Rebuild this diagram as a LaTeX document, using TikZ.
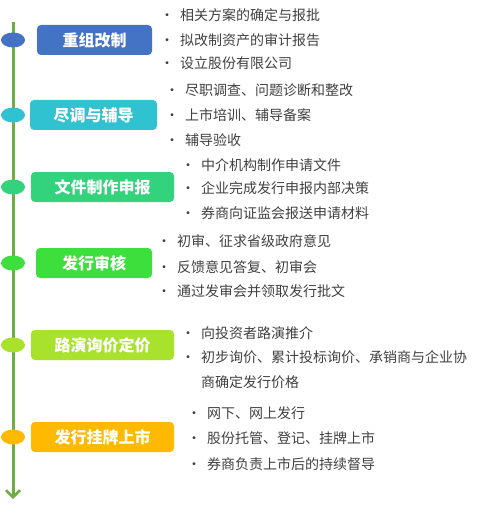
\documentclass[tikz,border=0pt]{standalone}
\usepackage{fontspec}
\setmainfont{Noto Sans CJK SC}
\usepackage{tikz}
\usetikzlibrary{arrows.meta,positioning,shapes.geometric}
\definecolor{ipogreen}{HTML}{70AD47}
\definecolor{ipoblue}{HTML}{4472C4}
\definecolor{ipoteal}{HTML}{31C2D2}
\definecolor{iposea}{HTML}{33D27C}
\definecolor{ipolime}{HTML}{3DDF3D}
\definecolor{ipoyell}{HTML}{A8E22C}
\definecolor{ipoorange}{HTML}{FFB900}
\definecolor{ipotext}{HTML}{404040}
\newcommand{\bul}{\makebox[20pt][l]{\textbullet}}

\begin{document}
\begin{tikzpicture}[
  x=1pt, y=-1pt,
  spine/.style={draw=ipogreen, line width=3pt, -{Straight Barb[length=7pt, width=14pt, line width=2.5pt]}},
  dot/.style={ellipse, minimum width=24pt, minimum height=15pt, inner sep=0pt},
  stage/.style={rounded corners=4pt, minimum height=30pt, inner sep=0pt, text=white,
                font=\fontsize{16}{16}\selectfont\bfseries},
  pt/.style={anchor=west, inner sep=0pt, text=ipotext, align=left,
             font=\fontsize{14}{25}\selectfont},
]
\useasboundingbox (0,0) rectangle (499,513);

% timeline
\coordinate (top) at (13,22);
\coordinate (bot) at (13,499);
\draw[spine] (top) -- (bot);

% stages
\node[dot, fill=ipoblue]   (d1) at (13,40)  {};
\node[dot, fill=ipoteal]   (d2) at (13,115) {};
\node[dot, fill=iposea]    (d3) at (13,187) {};
\node[dot, fill=ipolime]   (d4) at (13,263) {};
\node[dot, fill=ipoyell]   (d5) at (13,345) {};
\node[dot, fill=ipoorange] (d6) at (13,437) {};

\node[stage, fill=ipoblue,   minimum width=115pt] (s1) at (94.5,40)  {重组改制};
\node[stage, fill=ipoteal,   minimum width=127pt] (s2) at (93.5,115) {尽调与辅导};
\node[stage, fill=iposea,    minimum width=143pt] (s3) at (102.5,187) {文件制作申报};
\node[stage, fill=ipolime,   minimum width=116pt] (s4) at (94,263)  {发行审核};
\node[stage, fill=ipoyell,   minimum width=143pt] (s5) at (102.5,345) {路演询价定价};
\node[stage, fill=ipoorange, minimum width=143pt] (s6) at (102.5,437) {发行挂牌上市};

% items
\node[pt] (a1) at (160,15)  {\bul 相关方案的确定与报批};
\node[pt] (a2) at (160,40)  {\bul 拟改制资产的审计报告};
\node[pt] (a3) at (160,63)  {\bul 设立股份有限公司};

\node[pt] (b1) at (165,90)  {\bul 尽职调查、问题诊断和整改};
\node[pt] (b2) at (165,115) {\bul 上市培训、辅导备案};
\node[pt] (b3) at (165,140) {\bul 辅导验收};

\node[pt] (c1) at (181,165) {\bul 中介机构制作申请文件};
\node[pt] (c2) at (181,188) {\bul 企业完成发行申报内部决策};
\node[pt] (c3) at (181,213) {\bul 券商向证监会报送申请材料};

\node[pt] (e1) at (157,241) {\bul 初审、征求省级政府意见};
\node[pt] (e2) at (157,267) {\bul 反馈意见答复、初审会};
\node[pt] (e3) at (157,291) {\bul 通过发审会并领取发行批文};

\node[pt] (f1) at (181,333) {\bul 向投资者路演推介};
\node[pt] (f2) at (181,369.5) {\bul 初步询价、累计投标询价、承销商与企业协\\\hspace*{20pt}商确定发行价格};

\node[pt] (g1) at (187,413) {\bul 网下、网上发行};
\node[pt] (g2) at (187,438) {\bul 股份托管、登记、挂牌上市};
\node[pt] (g3) at (187,464) {\bul 券商负责上市后的持续督导};
\end{tikzpicture}
\end{document}
